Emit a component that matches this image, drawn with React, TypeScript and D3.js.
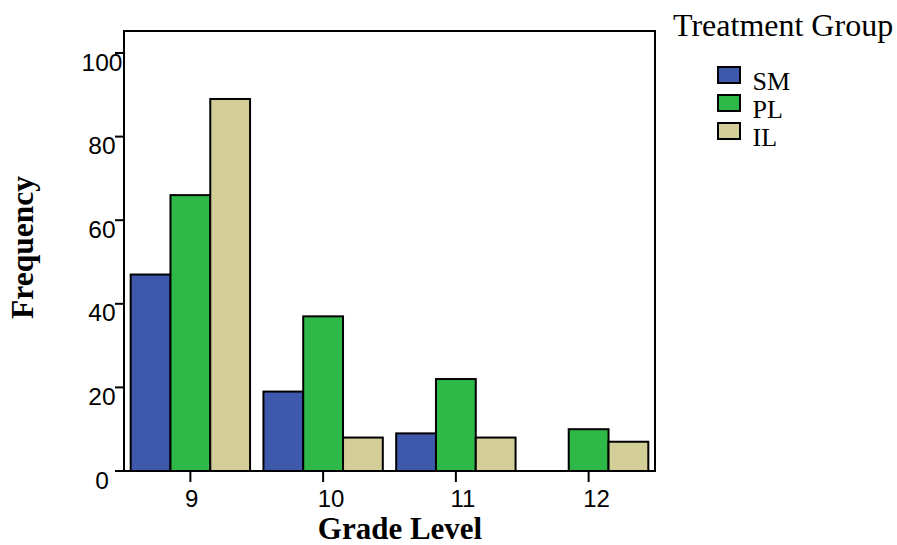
import React from "react";
import * as d3 from "d3";

const grades = ["9", "10", "11", "12"];
const groups = ["SM", "PL", "IL"];
const smValues = [47, 19, 9, 0];
const plValues = [66, 37, 22, 10];
const ilValues = [89, 8, 8, 7];
const yTicks = [0, 20, 40, 60, 80, 100];
const colors = ["#3E58AC", "#2EB848", "#D3CE97"];

const W = 897;
const H = 545;
const left = 124;
const right = 655;
const top = 31;
const bottom = 471;

export default function App() {
  const series = [smValues, plValues, ilValues];
  const x = d3.scaleBand<string>().domain(grades).range([left, right]).paddingInner(0).paddingOuter(0);
  const xInner = d3
    .scaleBand<string>()
    .domain(groups)
    .range([0, x.bandwidth()])
    .paddingInner(0)
    .paddingOuter(0.168);
  const y = d3.scaleLinear().domain([0, 100]).range([bottom, 53]);

  const sans = "'Liberation Sans', Arial, sans-serif";
  const serif = "'Liberation Serif', 'Times New Roman', serif";

  return (
    <svg
      width={W}
      height={H}
      style={{ position: "absolute", left: 0, top: 0, background: "#fff" }}
    >
      <rect x={0} y={0} width={W} height={H} fill="#fff" />
      {grades.map((g, gi) =>
        groups.map((s, si) => {
          const v = series[si][gi];
          if (v <= 0) return null;
          return (
            <rect
              key={g + s}
              x={(x(g) as number) + (xInner(s) as number)}
              y={y(v)}
              width={xInner.bandwidth()}
              height={bottom - y(v)}
              fill={colors[si]}
              stroke="#000"
              strokeWidth={2}
            />
          );
        })
      )}
      <rect
        x={left}
        y={top}
        width={right - left}
        height={bottom - top}
        fill="none"
        stroke="#000"
        strokeWidth={2}
      />
      {yTicks.map((t) => (
        <g key={t}>
          <line x1={115} x2={left} y1={y(t)} y2={y(t)} stroke="#000" strokeWidth={2} />
          <text
            x={102}
            y={y(t) + 17.5}
            textAnchor="middle"
            fontFamily={sans}
            fontSize={24.5}
            fill="#000"
          >
            {t}
          </text>
        </g>
      ))}
      {grades.map((g) => {
        const cx = (x(g) as number) + x.bandwidth() / 2;
        return (
          <g key={g}>
            <line x1={cx} x2={cx} y1={bottom} y2={482} stroke="#000" strokeWidth={2} />
            <text x={cx - 5.5} y={507} textAnchor="start" fontFamily={sans} fontSize={24} fill="#000">
              {g}
            </text>
          </g>
        );
      })}
      <text
        x={400}
        y={539}
        textAnchor="middle"
        fontFamily={serif}
        fontWeight="bold"
        fontSize={31}
        fill="#000"
      >
        Grade Level
      </text>
      <text
        transform={`translate(33, 247.5) rotate(-90)`}
        textAnchor="middle"
        fontFamily={serif}
        fontWeight="bold"
        fontSize={31.5}
        fill="#000"
      >
        Frequency
      </text>
      <text x={673} y={36} fontFamily={serif} fontSize={32} fill="#000">
        Treatment Group
      </text>
      {groups.map((s, i) => (
        <g key={s}>
          <rect
            x={718}
            y={67 + i * 28}
            width={22}
            height={16}
            fill={colors[i]}
            stroke="#000"
            strokeWidth={2}
          />
          <text x={752.5} y={89.5 + i * 28} fontFamily={serif} fontSize={26} fill="#000">
            {s}
          </text>
        </g>
      ))}
    </svg>
  );
}
